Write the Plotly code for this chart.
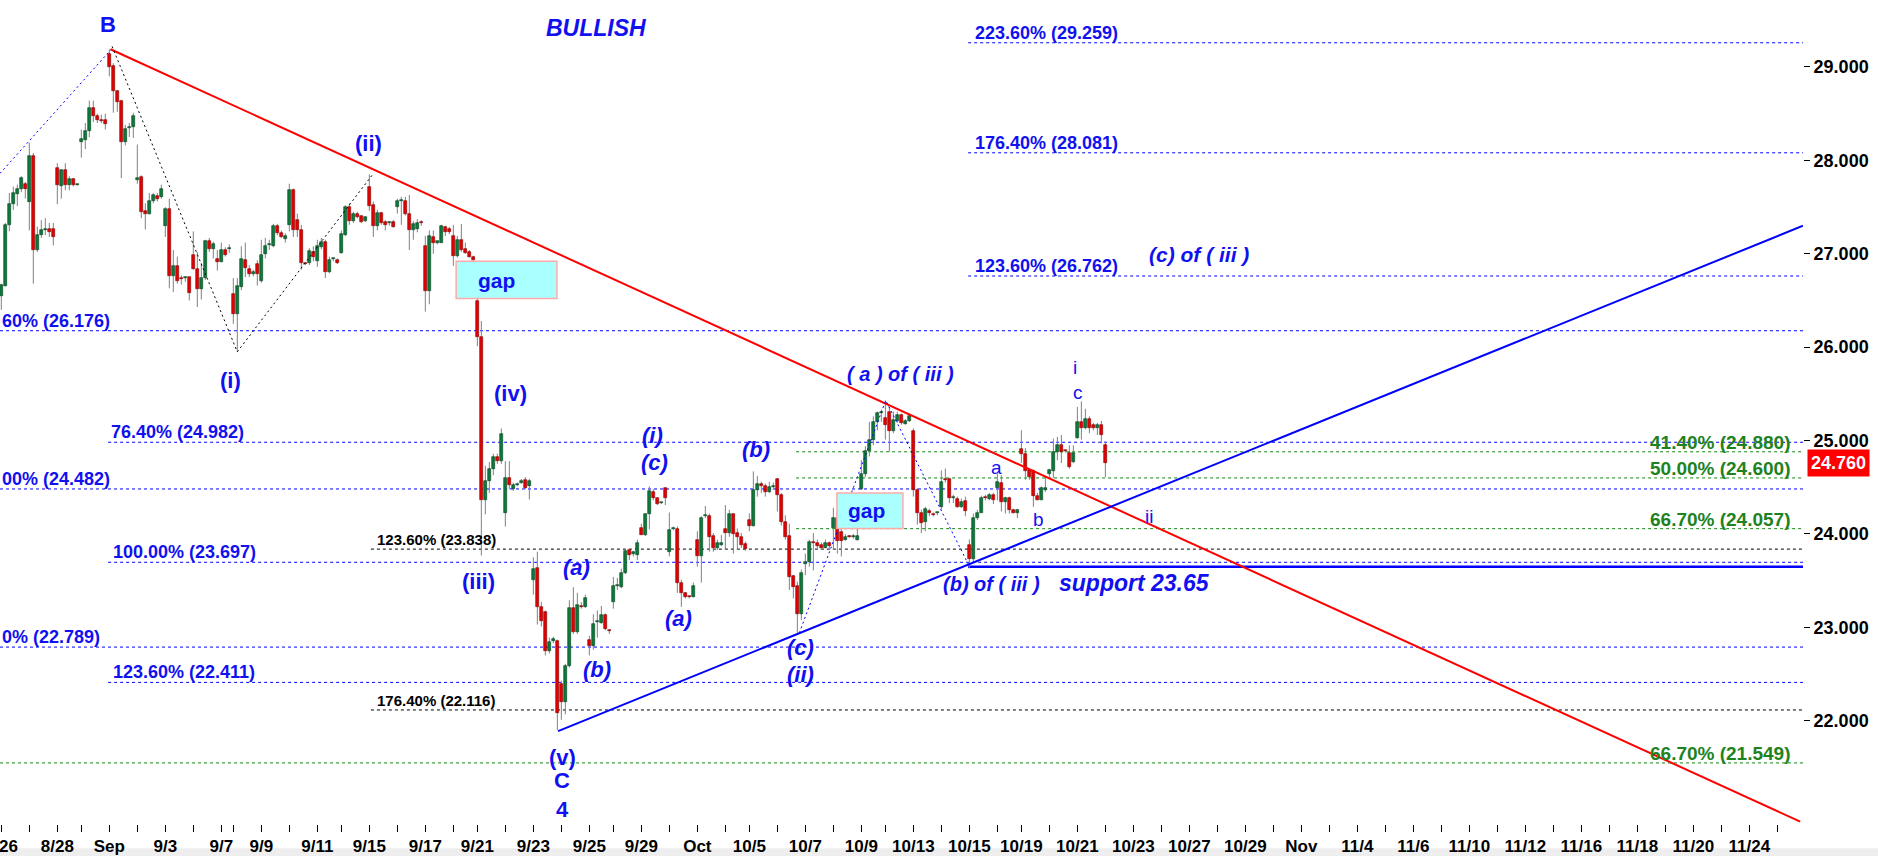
import plotly.graph_objects as go

# ---------------- data (4-hour candles) ----------------
OPEN = [
    26.55, 26.66, 27.31, 27.53, 27.64, 27.69, 27.75, 27.55, 28.05, 27.04,
    27.20, 27.25, 27.26, 27.26, 27.92, 27.73, 27.90, 27.74, 27.80, 27.74,
    28.20, 28.22, 28.31, 28.56, 28.48, 28.43, 28.43, 29.14, 29.01, 28.74,
    28.64, 28.20, 28.35, 28.36, 27.79, 27.82, 27.46, 27.43, 27.56, 27.62,
    27.61, 27.30, 27.48, 26.76, 26.87, 26.73, 26.74, 26.75, 26.99, 26.84,
    26.62, 26.74, 27.14, 27.05, 26.94, 26.91, 27.04, 27.05, 26.57, 26.36,
    26.64, 26.93, 26.84, 26.78, 26.89, 26.71, 27.00, 27.09, 27.08, 27.30,
    27.22, 27.16, 27.31, 27.68, 27.36, 27.25, 26.90, 26.90, 27.02, 26.92,
    27.07, 27.13, 26.81, 26.94, 26.93, 27.01, 27.20, 27.50, 27.35, 27.43,
    27.40, 27.35, 27.72, 27.52, 27.30, 27.44, 27.34, 27.33, 27.34, 27.50,
    27.56, 27.56, 27.43, 27.25, 27.27, 27.33, 27.08, 26.60, 27.18, 27.12,
    27.12, 27.29, 27.27, 27.19, 26.98, 27.15, 27.05, 27.02, 26.97, 26.49,
    26.11, 24.36, 24.57, 24.70, 24.82, 24.78, 24.22, 24.60, 24.48, 24.52,
    24.55, 24.58, 24.51, 23.51, 23.64, 23.22, 23.17, 22.75, 22.85, 22.85,
    22.39, 22.20, 22.59, 23.21, 22.95, 23.22, 23.22, 22.86, 22.80, 23.06,
    23.05, 23.13, 22.97, 23.27, 23.44, 23.43, 23.58, 23.83, 23.79, 23.78,
    24.06, 23.99, 24.21, 24.45, 24.38, 24.33, 24.49, 23.81, 24.05, 24.05,
    23.48, 23.37, 23.33, 23.33, 23.94, 23.76, 24.19, 24.19, 23.98, 23.85,
    23.88, 24.05, 24.01, 24.21, 24.01, 23.97, 23.89, 24.15, 24.09, 24.47,
    24.54, 24.51, 24.45, 24.50, 24.59, 24.42, 24.13, 23.98, 23.55, 23.44,
    23.14, 23.68, 23.70, 23.91, 23.90, 23.88, 23.85, 23.90, 24.06, 24.17,
    24.02, 23.94, 23.98, 23.97, 23.94, 24.48, 24.64, 24.89, 25.01, 25.20,
    25.29, 25.24, 25.31, 25.10, 25.21, 25.27, 25.18, 25.21, 25.10, 24.47,
    24.22, 24.13, 24.25, 24.21, 24.22, 24.29, 24.58, 24.59, 24.38, 24.37,
    24.29, 24.35, 23.88, 23.73, 24.17, 24.23, 24.39, 24.37, 24.42, 24.49,
    24.55, 24.34, 24.38, 24.26, 24.23, 24.91, 24.86, 24.69, 24.67, 24.41,
    24.36, 24.47, 24.64, 24.67, 24.88, 24.95, 24.89, 24.87, 24.77, 25.03,
    25.20, 25.13, 25.23, 25.17, 25.14, 25.17, 24.95,
]
HIGH = [
    26.68, 27.33, 27.65, 27.72, 27.74, 27.83, 27.77, 28.19, 28.08, 27.29,
    27.36, 27.38, 27.33, 27.33, 27.97, 27.90, 27.97, 27.83, 27.81, 27.75,
    28.33, 28.40, 28.64, 28.64, 28.50, 28.49, 28.50, 29.19, 29.04, 28.75,
    28.65, 28.38, 28.40, 28.51, 28.17, 27.84, 27.54, 27.65, 27.65, 27.65,
    27.74, 27.50, 27.59, 27.04, 26.97, 26.77, 26.76, 26.75, 27.24, 27.02,
    26.90, 27.15, 27.17, 27.13, 27.04, 27.12, 27.07, 27.10, 26.74, 26.74,
    27.08, 27.12, 26.88, 26.83, 26.93, 27.15, 27.17, 27.15, 27.32, 27.32,
    27.25, 27.22, 27.75, 27.70, 27.43, 27.31, 26.91, 27.06, 27.08, 27.15,
    27.17, 27.15, 26.97, 26.96, 26.95, 27.25, 27.52, 27.54, 27.45, 27.45,
    27.41, 27.40, 27.85, 27.56, 27.47, 27.45, 27.36, 27.35, 27.36, 27.59,
    27.61, 27.61, 27.63, 27.35, 27.37, 27.36, 27.19, 27.25, 27.25, 27.14,
    27.31, 27.30, 27.29, 27.31, 27.19, 27.32, 27.12, 27.04, 26.98, 26.55,
    26.28, 24.73, 24.77, 24.86, 24.86, 25.13, 24.78, 24.78, 24.55, 24.55,
    24.59, 24.61, 24.59, 23.75, 23.81, 23.27, 23.18, 22.89, 22.90, 22.87,
    22.43, 22.61, 23.29, 23.43, 23.37, 23.27, 23.35, 22.91, 23.14, 23.18,
    23.23, 23.15, 22.98, 23.54, 23.53, 23.63, 23.83, 23.84, 23.82, 23.94,
    24.11, 24.22, 24.51, 24.48, 24.39, 24.34, 24.50, 24.23, 24.08, 24.08,
    23.51, 23.38, 23.34, 23.48, 24.03, 24.19, 24.30, 24.22, 24.01, 23.94,
    23.99, 24.31, 24.26, 24.22, 24.06, 24.01, 23.92, 24.22, 24.67, 24.62,
    24.56, 24.54, 24.56, 24.55, 24.60, 24.44, 24.20, 24.11, 23.56, 23.49,
    23.62, 23.79, 23.94, 24.01, 23.94, 23.91, 23.94, 23.92, 24.28, 24.24,
    24.13, 24.00, 23.99, 24.00, 24.06, 24.79, 24.94, 25.20, 25.26, 25.31,
    25.33, 25.43, 25.36, 25.31, 25.31, 25.29, 25.23, 25.29, 25.13, 24.49,
    24.26, 24.29, 24.27, 24.23, 24.24, 24.68, 24.70, 24.60, 24.42, 24.40,
    24.38, 24.40, 23.94, 24.22, 24.26, 24.41, 24.42, 24.44, 24.44, 24.65,
    24.63, 24.40, 24.40, 24.27, 24.27, 25.11, 24.92, 24.70, 24.69, 24.44,
    24.51, 24.61, 24.70, 25.02, 25.04, 25.06, 24.90, 24.95, 24.95, 25.36,
    25.42, 25.34, 25.26, 25.19, 25.19, 25.21, 24.99,
]
LOW = [
    26.40, 26.65, 27.24, 27.47, 27.51, 27.66, 27.59, 27.25, 26.68, 27.02,
    27.17, 27.20, 27.18, 27.09, 27.53, 27.59, 27.68, 27.68, 27.72, 27.73,
    28.03, 28.12, 28.25, 28.41, 28.40, 28.40, 28.33, 28.90, 28.51, 28.52,
    27.81, 28.16, 28.25, 28.24, 27.75, 27.38, 27.26, 27.42, 27.54, 27.56,
    27.59, 27.18, 26.63, 26.59, 26.68, 26.67, 26.70, 26.50, 26.83, 26.43,
    26.51, 26.72, 27.02, 26.95, 26.82, 26.91, 26.97, 27.01, 26.25, 25.95,
    26.61, 26.75, 26.75, 26.76, 26.66, 26.69, 26.95, 27.04, 27.07, 27.20,
    27.17, 27.12, 27.24, 27.18, 27.18, 26.83, 26.88, 26.88, 26.92, 26.86,
    27.05, 26.74, 26.79, 26.92, 26.89, 27.00, 27.19, 27.31, 27.33, 27.38,
    27.33, 27.34, 27.46, 27.18, 27.25, 27.31, 27.25, 27.30, 27.28, 27.43,
    27.31, 27.41, 27.04, 27.15, 27.23, 27.30, 26.38, 26.46, 27.00, 27.10,
    27.12, 27.19, 27.21, 26.87, 26.96, 27.02, 27.00, 26.96, 26.92, 26.01,
    23.77, 24.21, 24.44, 24.63, 24.75, 24.75, 24.08, 24.48, 24.46, 24.51,
    24.54, 24.48, 24.37, 23.35, 23.03, 23.01, 22.70, 22.72, 22.83, 21.90,
    22.01, 22.07, 22.57, 22.93, 22.93, 23.20, 23.21, 22.70, 22.76, 22.89,
    23.04, 22.97, 22.93, 23.20, 23.40, 23.42, 23.57, 23.72, 23.76, 23.72,
    23.99, 23.98, 24.05, 24.36, 24.31, 24.32, 24.31, 23.76, 24.04, 23.37,
    23.22, 23.31, 23.31, 23.32, 23.65, 23.48, 24.17, 23.81, 23.81, 23.83,
    23.87, 23.83, 23.97, 23.79, 23.83, 23.85, 23.82, 24.03, 24.08, 24.40,
    24.44, 24.40, 24.44, 24.47, 24.24, 24.09, 23.94, 23.40, 23.31, 22.94,
    23.08, 23.56, 23.65, 23.61, 23.85, 23.83, 23.85, 23.85, 23.83, 23.79,
    23.76, 23.93, 23.96, 23.95, 23.93, 24.47, 24.61, 24.83, 24.95, 25.11,
    25.20, 25.01, 24.88, 25.08, 25.19, 25.17, 25.17, 25.20, 24.40, 24.10,
    24.01, 24.03, 24.19, 24.19, 24.20, 24.26, 24.55, 24.33, 24.33, 24.28,
    24.28, 24.19, 23.63, 23.70, 24.15, 24.23, 24.36, 24.36, 24.32, 24.36,
    24.24, 24.22, 24.22, 24.22, 24.17, 24.76, 24.58, 24.58, 24.29, 24.36,
    24.36, 24.45, 24.61, 24.60, 24.79, 24.76, 24.87, 24.70, 24.76, 25.02,
    25.01, 25.12, 25.08, 25.11, 25.06, 24.97, 24.61,
]
CLOSE = [
    26.67, 27.31, 27.53, 27.65, 27.69, 27.81, 27.69, 28.05, 27.04, 27.20,
    27.25, 27.25, 27.23, 27.18, 27.74, 27.90, 27.74, 27.80, 27.74, 27.75,
    28.23, 28.31, 28.56, 28.47, 28.43, 28.425, 28.39, 29.00, 28.74, 28.63,
    28.20, 28.34, 28.35, 28.48, 27.81, 27.45, 27.43, 27.56, 27.63, 27.59,
    27.69, 27.48, 26.76, 26.87, 26.71, 26.725, 26.745, 26.58, 26.84, 26.62,
    26.74, 27.14, 27.05, 27.10, 26.91, 27.04, 26.99, 27.055, 26.36, 26.65,
    26.94, 26.85, 26.78, 26.81, 26.78, 26.99, 27.08, 27.095, 27.30, 27.22,
    27.18, 27.19, 27.68, 27.25, 27.25, 26.90, 26.89, 27.03, 26.97, 27.08,
    27.13, 26.81, 26.93, 26.945, 26.90, 27.21, 27.50, 27.35, 27.43, 27.39,
    27.34, 27.39, 27.51, 27.30, 27.44, 27.33, 27.31, 27.335, 27.29, 27.56,
    27.565, 27.43, 27.25, 27.32, 27.33, 27.325, 26.60, 27.19, 27.12, 27.125,
    27.30, 27.23, 27.23, 26.98, 27.15, 27.04, 27.01, 26.97, 26.93, 26.11,
    24.36, 24.57, 24.70, 24.82, 24.78, 25.07, 24.60, 24.52, 24.52, 24.54,
    24.57, 24.49, 24.57, 23.63, 23.22, 23.07, 22.75, 22.84, 22.88, 22.08,
    22.20, 22.59, 23.21, 22.95, 23.24, 23.215, 23.31, 22.80, 23.04, 23.065,
    23.13, 22.98, 22.965, 23.44, 23.445, 23.58, 23.82, 23.77, 23.795, 23.90,
    23.99, 24.21, 24.46, 24.38, 24.32, 24.335, 24.39, 24.04, 24.055, 23.47,
    23.37, 23.33, 23.325, 23.44, 23.76, 24.17, 24.195, 23.97, 23.85, 23.90,
    23.90, 24.01, 24.21, 24.00, 23.97, 23.88, 23.84, 24.09, 24.47, 24.54,
    24.51, 24.45, 24.50, 24.505, 24.42, 24.13, 23.97, 23.54, 23.43, 23.14,
    23.58, 23.70, 23.91, 23.905, 23.87, 23.85, 23.90, 23.87, 24.17, 23.93,
    23.93, 23.97, 23.97, 23.975, 23.98, 24.64, 24.89, 25.01, 25.20, 25.29,
    25.295, 25.17, 25.10, 25.22, 25.27, 25.19, 25.21, 25.26, 24.47, 24.23,
    24.12, 24.27, 24.22, 24.205, 24.225, 24.56, 24.575, 24.38, 24.385, 24.29,
    24.34, 24.25, 23.73, 24.17, 24.23, 24.39, 24.385, 24.42, 24.36, 24.56,
    24.34, 24.38, 24.26, 24.23, 24.26, 24.86, 24.67, 24.61, 24.41, 24.36,
    24.49, 24.49, 24.68, 24.88, 24.95, 24.88, 24.885, 24.72, 24.87, 25.20,
    25.13, 25.23, 25.13, 25.14, 25.17, 25.06, 24.76,
]
LAST_PRICE = 24.760

# first bar of each trading day (bar number), and the date label for it
DAY_START_BAR = [
    1, 8, 15, 21, 28, 35, 42, 49, 56, 59, 66, 73, 80, 86, 93, 100, 107, 114,
    120, 127, 134, 141, 148, 154, 161, 168, 175, 182, 188, 195, 202, 209, 216,
    222, 229, 236, 243, 250, 256, 263, 270, 277, 284, 291, 298, 305, 312, 319,
    326, 333, 340, 347, 354, 361, 368, 375, 382, 389, 396, 403, 410, 417, 424,
    431, 438, 445,
]
DAY_LABELS = [
    "8/26", "", "8/28", "", "Sep", "", "9/3", "", "9/7", "", "9/9", "",
    "9/11", "", "9/15", "", "9/17", "", "9/21", "", "9/23", "", "9/25", "",
    "9/29", "", "Oct", "", "10/5", "", "10/7", "", "10/9", "", "10/13", "",
    "10/15", "", "10/19", "", "10/21", "", "10/23", "", "10/27", "", "10/29", "",
    "Nov", "", "11/4", "", "11/6", "", "11/10", "", "11/12", "", "11/16", "",
    "11/18", "", "11/20", "", "11/24", "",
]
Y_TICKS = [22, 23, 24, 25, 26, 27, 28, 29]

BLUE_LEVELS = [29.259, 28.081, 26.762, 26.176, 24.982, 24.482, 23.697, 22.789, 22.411]
BLUE_TEXTS = ["223.60% (29.259)", "176.40% (28.081)", "123.60% (26.762)",
              "60% (26.176)", "76.40% (24.982)", "00% (24.482)",
              "100.00% (23.697)", "0% (22.789)", "123.60% (22.411)"]
BLACK_LEVELS = [23.838, 22.116]
BLACK_TEXTS = ["123.60% (23.838)", "176.40% (22.116)"]
GREEN_LEVELS = [24.880, 24.600, 24.057, 21.549]
GREEN_TEXTS = ["41.40% (24.880)", "50.00% (24.600)", "66.70% (24.057)", "66.70% (21.549)"]
SUPPORT_LEVEL = 23.65

RED_TREND_BARS, RED_TREND_PRICES = [28.3, 450.7], [29.19, 20.92]
BLUE_TREND_BARS, BLUE_TREND_PRICES = [140.2, 451.4], [21.89, 27.30]
B_LEG_BARS, B_LEG_PRICES = [0.675, 28.3], [27.86, 29.18]
WAVE_I_BARS, WAVE_I_PRICES = [28.7, 60.0, 93.85], [29.22, 25.95, 27.85]
WAVE_III_BARS, WAVE_III_PRICES = [200.5, 222.1, 242.7], [22.94, 25.43, 23.68]
GAP_BARS = [(114.7, 139.9), (209.9, 226.4)]
GAP_PRICES = [(26.52, 26.92), (24.06, 24.44)]

WAVE_LABELS = [
    ("B", 27.7, 29.46), ("(ii)", 92.9, 28.18), ("(i)", 58.4, 25.64),
    ("(iv)", 128.2, 25.50), ("(iii)", 120.4, 23.49), ("(v)", 141.2, 21.61),
    ("C", 141.2, 21.36), ("4", 141.2, 21.05),
]
ITALIC_LABELS = [
    ("(a)", 144.7, 23.64), ("(b)", 149.9, 22.55), ("(i)", 163.9, 25.05),
    ("(c)", 164.4, 24.77), ("(a)", 170.4, 23.10), ("(b)", 189.7, 24.90),
    ("(c)", 200.7, 22.78), ("(ii)", 200.7, 22.50),
]
PHRASE_LABELS = [
    ("( a ) of ( iii )", 225.7, 25.71, 20), ("(b) of ( iii )", 248.5, 23.46, 20),
    ("(c) of ( iii )", 300.5, 26.99, 21), ("support 23.65", 284.2, 23.48, 23),
    ("BULLISH", 149.7, 29.42, 23),
]
MINOR_LABELS = [
    ("a", 249.9, 24.71), ("b", 260.2, 24.15), ("i", 269.4, 25.78),
    ("c", 270.1, 25.51), ("ii", 287.9, 24.19),
]
GAP_LABELS = [("gap", 124.9, 26.71), ("gap", 217.4, 24.25)]

# ---------------- layout / style ----------------
X0, X1 = 0.675, 451.4
Y0, Y1 = 20.895, 29.717
FONT = "Arial, Liberation Sans, sans-serif"
BLUE = "#0000ff"
TXT_BLUE = "#1010f0"
GREEN_LINE = "#0c8a0c"
GREEN_TXT = "#1e821e"
UP = "#0b7a3b"
DOWN = "#e50000"

BLUE_LINE_START = [242.7, 242.7, 242.7, X0, 27.7, X0, 27.7, X0, 27.7]
BLUE_LABEL_X = [244.0, 244.0, 244.0, X0, 27.9, X0, 28.4, X0, 28.4]
BLACK_LINE_START = 93.4
BLACK_LABEL_X = 94.5
GREEN_LINE_START = [199.7, 199.7, 199.7, X0]
GREEN_LABEL_X = 449.0
SUPPORT_START = 242.7

n = min(len(OPEN), len(HIGH), len(LOW), len(CLOSE))
bars = list(range(1, n + 1))

fig = go.Figure()

# horizontal level lines (below candles)
for lvl, x0 in zip(BLUE_LEVELS, BLUE_LINE_START):
    fig.add_trace(go.Scatter(x=[x0, X1], y=[lvl, lvl], mode="lines",
                             line=dict(color=BLUE, width=1, dash="3px,3px"),
                             hoverinfo="skip", showlegend=False, zorder=0))
for lvl in BLACK_LEVELS:
    fig.add_trace(go.Scatter(x=[BLACK_LINE_START, X1], y=[lvl, lvl], mode="lines",
                             line=dict(color="#000000", width=1, dash="3px,3px"),
                             hoverinfo="skip", showlegend=False, zorder=0))
for lvl, x0 in zip(GREEN_LEVELS, GREEN_LINE_START):
    fig.add_trace(go.Scatter(x=[x0, X1], y=[lvl, lvl], mode="lines",
                             line=dict(color=GREEN_LINE, width=1, dash="3px,3px"),
                             hoverinfo="skip", showlegend=False, zorder=0))
fig.add_trace(go.Scatter(x=[SUPPORT_START, X1], y=[SUPPORT_LEVEL, SUPPORT_LEVEL],
                         mode="lines", line=dict(color=BLUE, width=2.5),
                         hoverinfo="skip", showlegend=False, zorder=0))

# wicks
wx, wy = [], []
for i in range(n):
    wx += [bars[i], bars[i], None]
    wy += [LOW[i], HIGH[i], None]
fig.add_trace(go.Scatter(x=wx, y=wy, mode="lines", line=dict(color="#808080", width=1),
                         hoverinfo="skip", showlegend=False, zorder=1))

# bodies
base, height, colors, edges = [], [], [], []
for i in range(n):
    o, c = OPEN[i], CLOSE[i]
    base.append(min(o, c))
    height.append(max(abs(c - o), 0.012))
    up = c >= o
    colors.append(UP if up else DOWN)
    edges.append("#0a3d1e" if up else "#7a0000")
fig.add_trace(go.Bar(x=bars, y=height, base=base, width=0.74,
                     marker=dict(color=colors, line=dict(color=edges, width=0.6)),
                     hoverinfo="skip", showlegend=False, zorder=2))

# trend lines and wave sketches
fig.add_trace(go.Scatter(x=RED_TREND_BARS, y=RED_TREND_PRICES, mode="lines",
                         line=dict(color="#ff0000", width=2), hoverinfo="skip",
                         showlegend=False, zorder=3))
fig.add_trace(go.Scatter(x=BLUE_TREND_BARS, y=BLUE_TREND_PRICES, mode="lines",
                         line=dict(color=BLUE, width=2), hoverinfo="skip",
                         showlegend=False, zorder=3))
fig.add_trace(go.Scatter(x=B_LEG_BARS, y=B_LEG_PRICES, mode="lines",
                         line=dict(color=BLUE, width=1, dash="2px,3px"), hoverinfo="skip",
                         showlegend=False, zorder=3))
fig.add_trace(go.Scatter(x=WAVE_I_BARS, y=WAVE_I_PRICES, mode="lines",
                         line=dict(color="#000000", width=1, dash="2px,3px"), hoverinfo="skip",
                         showlegend=False, zorder=3))
fig.add_trace(go.Scatter(x=WAVE_III_BARS, y=WAVE_III_PRICES, mode="lines",
                         line=dict(color=BLUE, width=1, dash="2px,3px"), hoverinfo="skip",
                         showlegend=False, zorder=3))

shapes = []
for (xa, xb), (ya, yb) in zip(GAP_BARS, GAP_PRICES):
    shapes.append(dict(type="rect", xref="x", yref="y", x0=xa, x1=xb, y0=ya, y1=yb,
                       fillcolor="#aaffff", line=dict(color="#ffaaaa", width=1.5),
                       layer="above"))
# light strip under the date labels
shapes.append(dict(type="rect", xref="paper", yref="paper", x0=0, x1=1.05,
                   y0=-0.0389, y1=-0.0295, fillcolor="#eeeeee", line=dict(width=0),
                   layer="below"))

ann = []
def label(text, x, y, size, color, bold=True, italic=False, xanchor="center",
          yanchor="middle", yshift=0):
    ann.append(dict(text=text, x=x, y=y, xref="x", yref="y", showarrow=False,
                    xanchor=xanchor, yanchor=yanchor, yshift=yshift,
                    font=dict(family=FONT, size=size, color=color,
                              weight="bold" if bold else "normal",
                              style="italic" if italic else "normal")))

for lvl, txt, lx in zip(BLUE_LEVELS, BLUE_TEXTS, BLUE_LABEL_X):
    label(txt, lx, lvl, 18, TXT_BLUE, xanchor="left", yanchor="bottom", yshift=-2)
for lvl, txt in zip(BLACK_LEVELS, BLACK_TEXTS):
    label(txt, BLACK_LABEL_X, lvl, 15, "#000000", xanchor="left", yanchor="bottom", yshift=-1)
for lvl, txt in zip(GREEN_LEVELS, GREEN_TEXTS):
    label(txt, GREEN_LABEL_X, lvl, 19, GREEN_TXT, xanchor="right", yanchor="bottom", yshift=-3)
for txt, x, y in WAVE_LABELS:
    label(txt, x, y, 22, TXT_BLUE)
for txt, x, y in ITALIC_LABELS:
    label(txt, x, y, 22, TXT_BLUE, italic=True)
for txt, x, y, s in PHRASE_LABELS:
    label(txt, x, y, s, TXT_BLUE, italic=True)
for txt, x, y in MINOR_LABELS:
    label(txt, x, y, 19, TXT_BLUE, bold=False)
for txt, x, y in GAP_LABELS:
    label(txt, x, y, 21, TXT_BLUE)

ann.append(dict(text="<b>%.3f</b>" % LAST_PRICE, x=1, xref="paper", y=LAST_PRICE, yref="y",
                xanchor="left", yanchor="middle", xshift=4, showarrow=False,
                bgcolor="#ff0000", borderpad=3,
                font=dict(family=FONT, size=18, color="#ffffff")))

fig.update_layout(
    width=1878, height=856,
    margin=dict(l=0, r=75, t=0, b=32, autoexpand=False),
    paper_bgcolor="#ffffff", plot_bgcolor="#ffffff",
    showlegend=False, bargap=0,
    shapes=shapes, annotations=ann,
    xaxis=dict(range=[X0, X1], tickmode="array", tickvals=DAY_START_BAR,
               ticktext=DAY_LABELS, ticks="outside", ticklen=7, tickcolor="#000000",
               showline=True, linecolor="#000000", linewidth=1, showgrid=False,
               zeroline=False, ticklabeloverflow="allow", automargin=False,
               tickfont=dict(family=FONT, size=17, color="#000000", weight="bold")),
    yaxis=dict(range=[Y0, Y1], side="right", tickmode="array", tickvals=Y_TICKS,
               ticktext=["%.3f" % v for v in Y_TICKS], ticks="outside", ticklen=6,
               tickcolor="#000000", showline=True, linecolor="#000000", linewidth=1,
               showgrid=False, zeroline=False, automargin=False,
               tickfont=dict(family=FONT, size=18, color="#000000", weight="bold")),
)

fig.write_html("out.html", config={"displayModeBar": False},
               post_script="document.body.style.margin='0px';document.body.style.overflow='hidden';")
